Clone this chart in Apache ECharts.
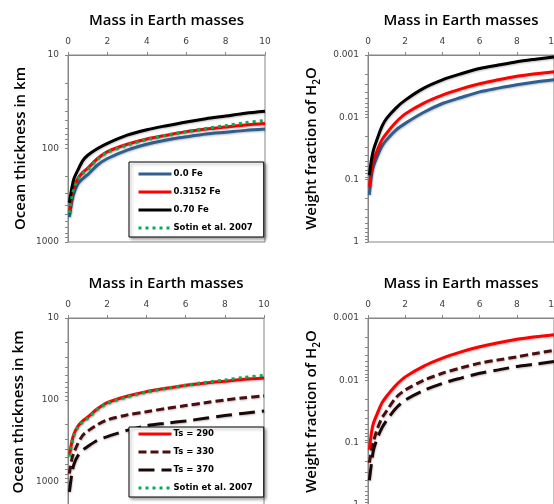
<!DOCTYPE html>
<html><head><meta charset="utf-8">
<script src="https://cdn.jsdelivr.net/npm/echarts@6/dist/echarts.min.js"></script>
<style>html,body{margin:0;padding:0;background:#fff}#c{width:554px;height:504px}</style>
</head><body><div id="c"></div>
<script>
// ---- data ----
const mass = [0.07, 0.2, 0.3, 0.5, 0.75, 1, 1.5, 2, 3, 4, 5, 6, 7, 8, 9, 10];
const xTicks = [0, 2, 4, 6, 8, 10];
const thickTicks = [10, 100, 1000];
const thickTicksBottom = [10, 100, 1000, 10000];
const fracTicks = [0.001, 0.01, 0.1, 1];

// Ocean thickness (km), top-left
const thick_0Fe    = [540, 360, 300, 240, 210, 190, 150, 128, 104, 90, 81, 75, 70, 67, 64, 62];
const thick_3152Fe = [480, 320, 260, 210, 180, 162, 128, 108, 90, 79, 72, 66, 62, 59, 56, 54];
const thick_70Fe   = [380, 260, 210, 170, 135, 118, 100, 88, 72, 63, 57, 52, 48, 45, 42, 40];
const thick_sotin  = [490, 330, 270, 215, 185, 168, 130, 110, 92, 80, 72, 66, 61, 57, 53, 50];
// Weight fraction of H2O, top-right
const frac_0Fe    = [0.175, 0.08, 0.06, 0.042, 0.029, 0.023, 0.016, 0.0125, 0.0083, 0.006, 0.0048, 0.0039, 0.0034, 0.003, 0.0027, 0.0025];
const frac_3152Fe = [0.13, 0.065, 0.048, 0.034, 0.023, 0.018, 0.012, 0.0088, 0.0059, 0.0044, 0.0035, 0.0029, 0.0025, 0.0022, 0.002, 0.00185];
const frac_70Fe   = [0.085, 0.045, 0.033, 0.022, 0.014, 0.0104, 0.0071, 0.0053, 0.0034, 0.0025, 0.002, 0.00165, 0.00145, 0.00128, 0.00117, 0.00108];
// Ocean thickness (km), bottom-left
const thick_Ts290 = [480, 320, 260, 210, 180, 162, 128, 108, 90, 79, 72, 66, 62, 59, 56, 54];
const thick_Ts330 = [790, 520, 440, 340, 270, 240, 200, 175, 152, 139, 127, 117, 108, 100, 94, 89];
const thick_Ts370 = [1320, 780, 610, 480, 410, 370, 310, 280, 235, 206, 192, 180, 167, 155, 145, 136];
// Weight fraction, bottom-right
const frac_Ts290 = [0.13, 0.065, 0.048, 0.034, 0.023, 0.018, 0.012, 0.0088, 0.0059, 0.0044, 0.0035, 0.0029, 0.0025, 0.0022, 0.002, 0.00185];
const frac_Ts330 = [0.21, 0.13, 0.095, 0.06, 0.04, 0.031, 0.019, 0.0143, 0.01, 0.0077, 0.0063, 0.0053, 0.0047, 0.0042, 0.0037, 0.0033];
const frac_Ts370 = [0.4, 0.2, 0.13, 0.085, 0.058, 0.044, 0.028, 0.0207, 0.0145, 0.0112, 0.0092, 0.0077, 0.0068, 0.006, 0.0055, 0.005];

// ---- helpers ----
const pairs = v => mass.map((m, i) => [m, v[i]]);
const minorOf = majors => {
  const out = [];
  majors.forEach((d, i) => {
    out.push(d);
    if (i < majors.length - 1) for (let k = 2; k <= 9; k++) out.push(+(d * k).toPrecision(6));
  });
  return out;
};
const fmt = v => String(+(+v).toPrecision(6));
const AX = '#868686';
const LBL = '#404040';
const FONT = 'DejaVu Sans';
const NAMEFONT = 'Open Sans';
const NAMEWEIGHT = 600;

const grids = [
  {left: 68, top: 55, width: 197, height: 187},
  {left: 368, top: 55, width: 186, height: 187},
  {left: 68, top: 318, width: 196, height: 246},
  {left: 368, top: 318, width: 186, height: 187}
].map(g => Object.assign(g, {show: true, borderColor: AX, borderWidth: 1, outerBoundsMode: 'none', containLabel: false, backgroundColor: 'transparent'}));

const xAxes = [0, 1, 2, 3].map(i => ({
  type: 'value', gridIndex: i, position: 'top', min: 0, max: 10, interval: 2,
  name: 'Mass in Earth masses', nameLocation: 'middle', nameGap: 27,
  nameTextStyle: {fontFamily: NAMEFONT, fontSize: 15, fontWeight: NAMEWEIGHT, color: '#000'},
  axisLine: {show: true, lineStyle: {color: AX, width: 1}},
  axisTick: {show: true, length: 3, inside: false, lineStyle: {color: AX}},
  axisLabel: {fontFamily: FONT, fontSize: 9, color: LBL, margin: 9},
  splitLine: {show: false}
}));

function yAxis(i, majors, name, nameGap, pad) {
  return {
    type: 'log', logBase: 10, gridIndex: i, inverse: true,
    min: majors[0], max: majors[majors.length - 1],
    name: name, nameLocation: 'middle', nameGap: nameGap,
    nameTextStyle: {fontFamily: NAMEFONT, fontSize: 15, fontWeight: NAMEWEIGHT, color: '#000', padding: pad || 0,
      rich: {a: {fontFamily: NAMEFONT, fontSize: 15, fontWeight: NAMEWEIGHT, color: '#000', lineHeight: 20},
             s: {fontFamily: NAMEFONT, fontSize: 10, fontWeight: NAMEWEIGHT, color: '#000', lineHeight: 10, verticalAlign: 'bottom'}}},
    axisLine: {show: true, lineStyle: {color: AX, width: 1}},
    axisTick: {show: true, length: 3, lineStyle: {color: AX}, customValues: minorOf(majors)},
    axisLabel: {fontFamily: FONT, fontSize: 9, color: LBL, margin: 9, customValues: majors, formatter: fmt},
    splitLine: {show: false}, minorTick: {show: false}
  };
}
const yAxes = [
  yAxis(0, thickTicks, 'Ocean thickness in km', 40),
  yAxis(1, fracTicks, '{a|Weight fraction of H}{s|2}{a|O}', 46),
  yAxis(2, thickTicksBottom, 'Ocean thickness in km', 40, [0, 0, 0, 58]),
  yAxis(3, fracTicks, '{a|Weight fraction of H}{s|2}{a|O}', 46)
];

const SH = {shadowBlur: 2, shadowColor: 'rgba(0,0,0,0.25)', shadowOffsetX: 0.5, shadowOffsetY: 1};
const C = {
  blue: '#2F5F8F', red: '#FF0000', black: '#000000', green: '#00B050',
  ts330: '#4A0E0E', ts370: '#1A0808'
};
function line(name, gi, data, color, type, width) {
  return {
    type: 'line', name: name, xAxisIndex: gi, yAxisIndex: gi, data: pairs(data),
    symbol: 'none', smooth: 0.3, animation: false,
    lineStyle: Object.assign({color: color, width: width || 3, type: type || 'solid'}, SH),
    itemStyle: {color: color}, z: 3
  };
}
const dots = [3, 4];
const SOTIN = 'Sotin et al. 2007';
const series = [
  line('0.0 Fe', 0, thick_0Fe, C.blue),
  line('0.3152 Fe', 0, thick_3152Fe, C.red),
  line('0.70 Fe', 0, thick_70Fe, C.black),
  line(SOTIN, 0, thick_sotin, C.green, dots),
  line('0.0 Fe ', 1, frac_0Fe, C.blue),
  line('0.3152 Fe ', 1, frac_3152Fe, C.red),
  line('0.70 Fe ', 1, frac_70Fe, C.black),
  line('Ts = 290', 2, thick_Ts290, C.red),
  line('Ts = 330', 2, thick_Ts330, C.ts330, [8, 4]),
  line('Ts = 370', 2, thick_Ts370, C.ts370, [16, 7]),
  line(SOTIN, 2, thick_sotin, C.green, dots),
  line('Ts = 290 ', 3, frac_Ts290, C.red),
  line('Ts = 330 ', 3, frac_Ts330, C.ts330, [8, 4]),
  line('Ts = 370 ', 3, frac_Ts370, C.ts370, [16, 7])
];
series[10].z = 4;

function legend(top, names, pad) {
  return {
    orient: 'vertical', left: 129, top: top, data: names,
    itemWidth: 33, itemHeight: 14, itemGap: 4, padding: pad,
    backgroundColor: '#fff', borderColor: '#000', borderWidth: 1,
    shadowBlur: 3, shadowColor: 'rgba(0,0,0,0.35)', shadowOffsetX: 2, shadowOffsetY: 2,
    itemStyle: {opacity: 0},
    lineStyle: {width: 3},
    textStyle: {fontFamily: FONT, fontSize: 8.5, fontWeight: 'bold', color: '#000', padding: [0, 0, 0, -3], lineHeight: 14},
    selectedMode: false
  };
}

const chart = echarts.init(document.getElementById('c'), null, {renderer: 'canvas'});
chart.setOption({
  animation: false,
  backgroundColor: '#fff',
  grid: grids, xAxis: xAxes, yAxis: yAxes, series: series,
  legend: [
    legend(162, ['0.0 Fe', '0.3152 Fe', '0.70 Fe', SOTIN], [5, 11, 2, 8]),
    legend(427, ['Ts = 290', 'Ts = 330', 'Ts = 370', SOTIN], [0, 11, 2, 8])
  ]
});
</script></body></html>
